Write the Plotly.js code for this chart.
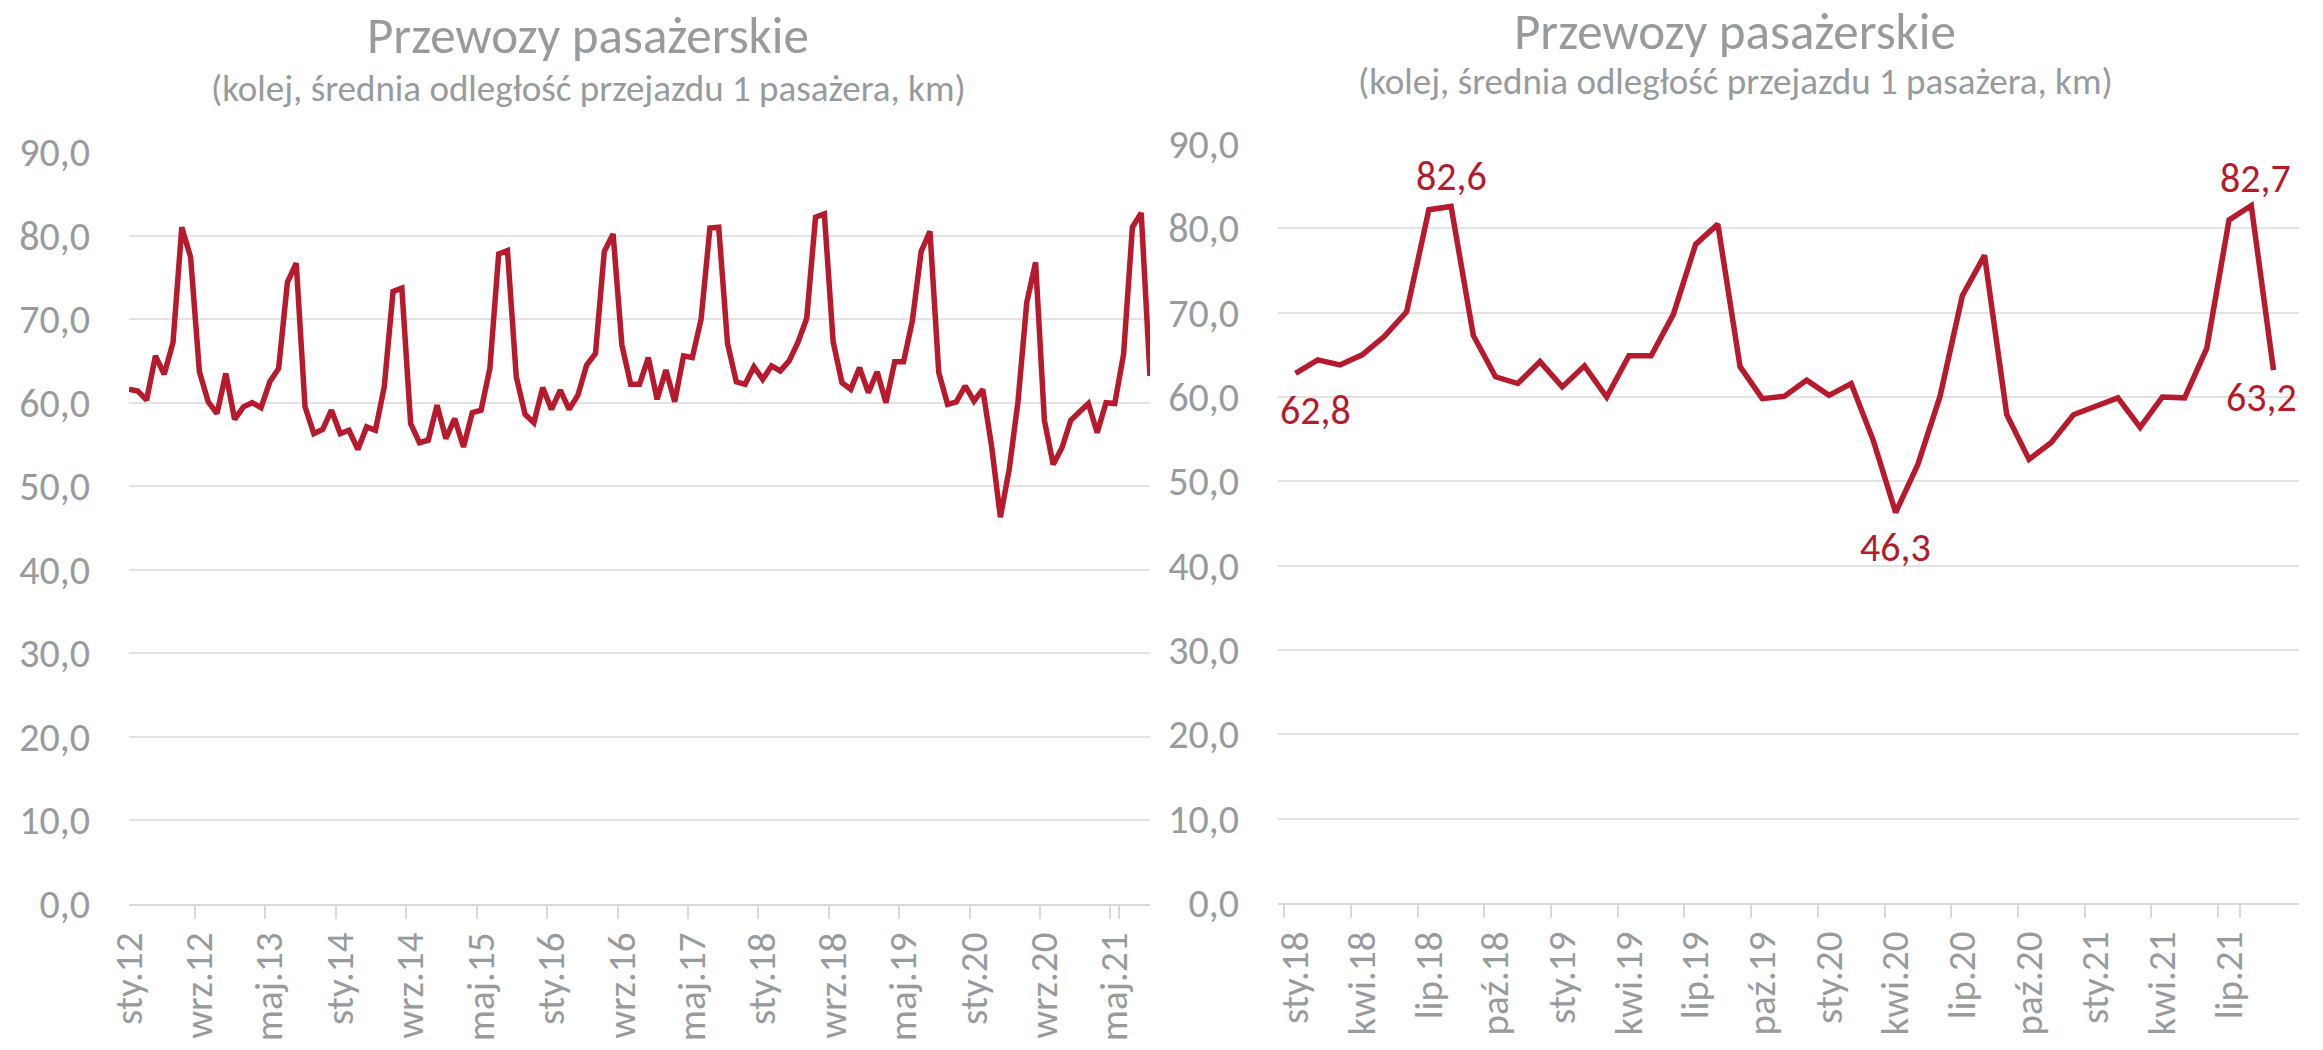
<!DOCTYPE html>
<html>
<head>
<meta charset="utf-8">
<script src="https://cdn.plot.ly/plotly-3.0.1.min.js"></script>
<style>
  html, body { margin: 0; padding: 0; background: #ffffff; }
  #wrap { position: relative; width: 2323px; height: 1050px; overflow: hidden; }
  #left { position: absolute; left: 0; top: 0; width: 1161px; height: 1050px; }
  #right { position: absolute; left: 1161px; top: 0; width: 1162px; height: 1050px; }
</style>
</head>
<body>
<div id="wrap"><div id="left"></div><div id="right"></div></div>
<script>
// ---------------- DATA ----------------
const chartTitle = 'Przewozy pasażerskie';
const chartSubtitle = '(kolej, średnia odległość przejazdu 1 pasażera, km)';
const monthNames = ['sty', 'lut', 'mar', 'kwi', 'maj', 'cze', 'lip', 'sie', 'wrz', 'paź', 'lis', 'gru'];
const yearLabels = ['12', '13', '14', '15', '16', '17', '18', '19', '20', '21'];

// average trip distance per passenger, km (monthly)
const v2012 = [61.6, 61.4, 60.3, 65.6, 63.4, 67.2, 81.0, 77.4, 63.7, 60.1, 58.7, 63.5];
const v2013 = [58.0, 59.5, 60.0, 59.4, 62.5, 64.1, 74.4, 76.7, 59.5, 56.3, 56.8, 59.1];
const v2014 = [56.3, 56.7, 54.4, 57.1, 56.7, 61.9, 73.3, 73.7, 57.5, 55.2, 55.5, 59.7];
const v2015 = [55.7, 58.1, 54.7, 58.8, 59.1, 64.1, 77.8, 78.2, 63.1, 58.6, 57.6, 61.8];
const v2016 = [59.2, 61.5, 59.2, 60.9, 64.5, 65.9, 78.1, 80.2, 66.9, 62.2, 62.2, 65.4];
const v2017 = [60.4, 63.9, 60.1, 65.6, 65.4, 70.0, 80.9, 81.0, 67.1, 62.5, 62.2, 64.3];
const v2018 = [62.8, 64.4, 63.8, 65.0, 67.2, 70.1, 82.2, 82.6, 67.3, 62.4, 61.6, 64.2];
const v2019 = [61.2, 63.7, 60.0, 64.9, 64.9, 69.8, 78.1, 80.5, 63.6, 59.8, 60.1, 62.0];
const v2020 = [60.2, 61.6, 54.8, 46.3, 52.0, 60.1, 72.0, 76.8, 57.9, 52.6, 54.6, 57.9];
const v2021 = [58.9, 59.9, 56.4, 60.0, 59.9, 65.8, 81.0, 82.7, 63.2];

const leftTickLabels = ['sty.12', 'wrz.12', 'maj.13', 'sty.14', 'wrz.14', 'maj.15', 'sty.16', 'wrz.16',
  'maj.17', 'sty.18', 'wrz.18', 'maj.19', 'sty.20', 'wrz.20', 'maj.21'];
const rightTickLabels = ['sty.18', 'kwi.18', 'lip.18', 'paź.18', 'sty.19', 'kwi.19', 'lip.19', 'paź.19',
  'sty.20', 'kwi.20', 'lip.20', 'paź.20', 'sty.21', 'kwi.21', 'lip.21'];
const rightStart = 'sty.18';
const labelledPoints = ['sty.18', 'sie.18', 'kwi.20', 'sie.21', 'wrz.21'];
const yTickVals = [0, 10, 20, 30, 40, 50, 60, 70, 80, 90];

// ---------------- BUILD ----------------
const yearly = [v2012, v2013, v2014, v2015, v2016, v2017, v2018, v2019, v2020, v2021];
const cats = [];
const vals = [];
yearly.forEach((arr, yi) => {
  arr.forEach((v, mi) => {
    cats.push(monthNames[mi] + '.' + yearLabels[yi]);
    vals.push(v);
  });
});
const startIdx = cats.indexOf(rightStart);
const rCats = cats.slice(startIdx);
const rVals = vals.slice(startIdx);

const FONT = 'Carlito, Calibri, Lato, sans-serif';
const GRAY = '#979b9e';
const RED = '#b61a2c';
const fmt = v => v.toFixed(1).replace('.', ',');

function makeLayout(W, H, m, tickLabels, titleX, titleY, subY) {
  const ph = H - m.t - m.b, pw = W - m.l - m.r;
  const py = y => (H - m.b - y) / ph;
  const px = x => (x - m.l) / pw;
  return {
    width: W, height: H,
    margin: m,
    paper_bgcolor: '#ffffff', plot_bgcolor: '#ffffff',
    showlegend: false,
    separators: ', ',
    font: { family: FONT, color: GRAY, size: 40 },
    xaxis: {
      type: 'category',
      tickmode: 'array',
      tickvals: tickLabels,
      ticktext: tickLabels,
      tickson: 'boundaries',
      tickangle: -90,
      ticks: 'outside', ticklen: 13, tickwidth: 2, tickcolor: '#d9d9d9',
      showline: true, linecolor: '#d9d9d9', linewidth: 2,
      showgrid: false, zeroline: false,
      ticklabelstandoff: 11,
      tickfont: { family: FONT, size: 39, color: GRAY },
      fixedrange: true
    },
    yaxis: {
      range: [0, 90],
      tickmode: 'array', tickvals: yTickVals,
      tickformat: '.1f',
      showgrid: true, gridcolor: '#e3e3e3', gridwidth: 2,
      zeroline: false, showline: false, ticks: '',
      ticklabelstandoff: 38,
      tickfont: { family: FONT, size: 40, color: GRAY },
      fixedrange: true
    },
    annotations: [
      { xref: 'paper', yref: 'paper', x: px(titleX), y: py(titleY), xanchor: 'center', yanchor: 'middle',
        text: chartTitle, showarrow: false, font: { family: FONT, size: 51, color: GRAY } },
      { xref: 'paper', yref: 'paper', x: px(titleX), y: py(subY), xanchor: 'center', yanchor: 'middle',
        text: chartSubtitle, showarrow: false, font: { family: FONT, size: 37, color: GRAY } }
    ]
  };
}

const lineStyle = { color: RED, width: 5.5, shape: 'linear' };

// Left chart
const mL = { l: 129, r: 11, t: 152, b: 146, pad: 0 };
const layoutL = makeLayout(1161, 1050, mL, leftTickLabels, 588, 36, 88);
Plotly.newPlot('left', [{
  type: 'scatter', mode: 'lines', x: cats, y: vals, line: lineStyle, hoverinfo: 'skip'
}], layoutL, { staticPlot: true });

// Right chart
const mR = { l: 117, r: 24, t: 144, b: 147, pad: 0 };
const layoutR = makeLayout(1162, 1050, mR, rightTickLabels, 574, 32, 81);
const labelOffsets = {
  'sty.18': { dy: -37, dx: 20 },
  'sie.18': { dy: 30, dx: 0 },
  'kwi.20': { dy: -35, dx: 0 },
  'sie.21': { dy: 27, dx: 4 },
  'wrz.21': { dy: -27, dx: -12 }
};
labelledPoints.forEach(c => {
  const i = rCats.indexOf(c);
  const o = labelOffsets[c];
  layoutR.annotations.push({
    xref: 'x', yref: 'y', x: c, y: rVals[i], text: fmt(rVals[i]), showarrow: false,
    xanchor: 'center', yanchor: 'middle', xshift: o.dx, yshift: o.dy,
    font: { family: FONT, size: 40, color: RED }
  });
});
Plotly.newPlot('right', [{
  type: 'scatter', mode: 'lines', x: rCats, y: rVals, line: lineStyle, hoverinfo: 'skip', cliponaxis: false
}], layoutR, { staticPlot: true });
</script>
</body>
</html>
